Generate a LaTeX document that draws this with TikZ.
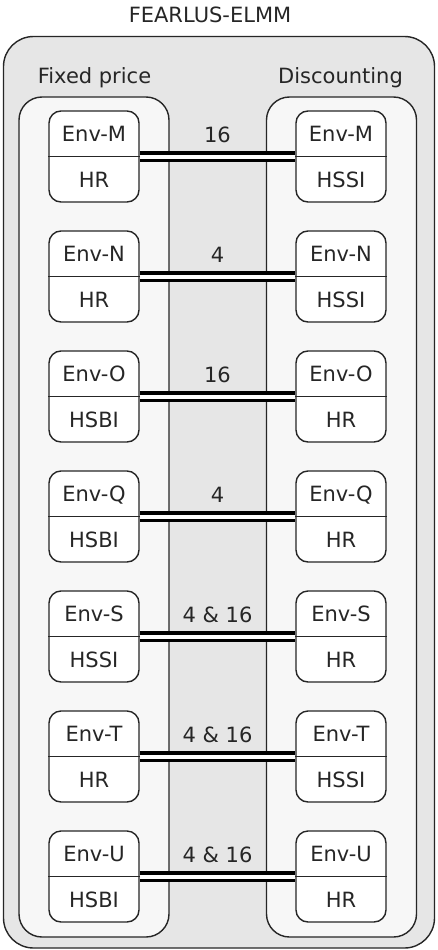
\documentclass[tikz,border=0pt]{standalone}
\usepackage{fontspec}
\setmainfont{DejaVu Sans}
\usetikzlibrary{calc}

\definecolor{outerfill}{HTML}{E6E6E6}
\definecolor{groupfill}{HTML}{F7F7F7}
\definecolor{edge}{HTML}{262626}

\begin{document}
\begin{tikzpicture}[x=1pt,y=-1pt,
    every node/.style={font=\fontsize{21}{25}\selectfont,text=edge},
    group/.style={draw=edge,fill=groupfill,line width=1.4pt,rounded corners=23pt,
        minimum width=150pt,minimum height=840pt,inner sep=0pt},
    envbox/.style={draw=edge,fill=white,line width=1.4pt,rounded corners=12pt,
        minimum width=90pt,minimum height=91pt,inner sep=0pt},
    envtxt/.style={inner sep=0pt,text height=15.3pt,text depth=0pt},
    link/.style={draw=black,line width=3.6pt,double=white,double distance=4pt}]

        \useasboundingbox (0,0) rectangle (437,950);

        % Outer frame
        \draw[draw=edge,fill=outerfill,line width=1.4pt,rounded corners=30pt]
            (3.5,36.5) rectangle (434.5,948);
        \node[envtxt] (title) at (210,15) {FEARLUS-ELMM};

        % Groups
        \node[group] (fixed) at (94,517) {};
        \node[group] (disc) at (341.5,517) {};
        \node[envtxt] (fixedlbl) at (94.5,75.4) {Fixed price};
        \node[envtxt] (disclbl) at (340.5,75.4) {Discounting};

        % Environments and links
        \foreach \env/\lft/\rgt/\num [count=\i from 0] in
            {M/HR/HSSI/16, N/HR/HSSI/4, O/HSBI/HR/16, Q/HSBI/HR/4,
             S/HSSI/HR/{4 \& 16}, T/HR/HSSI/{4 \& 16}, U/HSBI/HR/{4 \& 16}} {
            \pgfmathsetmacro{\yc}{156.5+120*\i}
            \node[envbox] (fix\env) at (94,\yc) {};
            \node[envbox] (dis\env) at (341,\yc) {};
            \draw[draw=edge,line width=1.4pt] (fix\env.west) -- (fix\env.east);
            \draw[draw=edge,line width=1.4pt] (dis\env.west) -- (dis\env.east);
            \node[envtxt] (fix\env top) at ($(fix\env)+(0,-22.5)$) {Env-\env};
            \node[envtxt] (fix\env bot) at ($(fix\env)+(0,23)$) {\lft};
            \node[envtxt] (dis\env top) at ($(dis\env)+(0,-22.5)$) {Env-\env};
            \node[envtxt] (dis\env bot) at ($(dis\env)+(0,23)$) {\rgt};
            \draw[link] (fix\env.east) -- (dis\env.west);
            \node[envtxt] (num\env) at ($(fix\env.east)!0.5!(dis\env.west)+(0,-21.5)$) {\num};
        }

    \end{tikzpicture}
\end{document}
